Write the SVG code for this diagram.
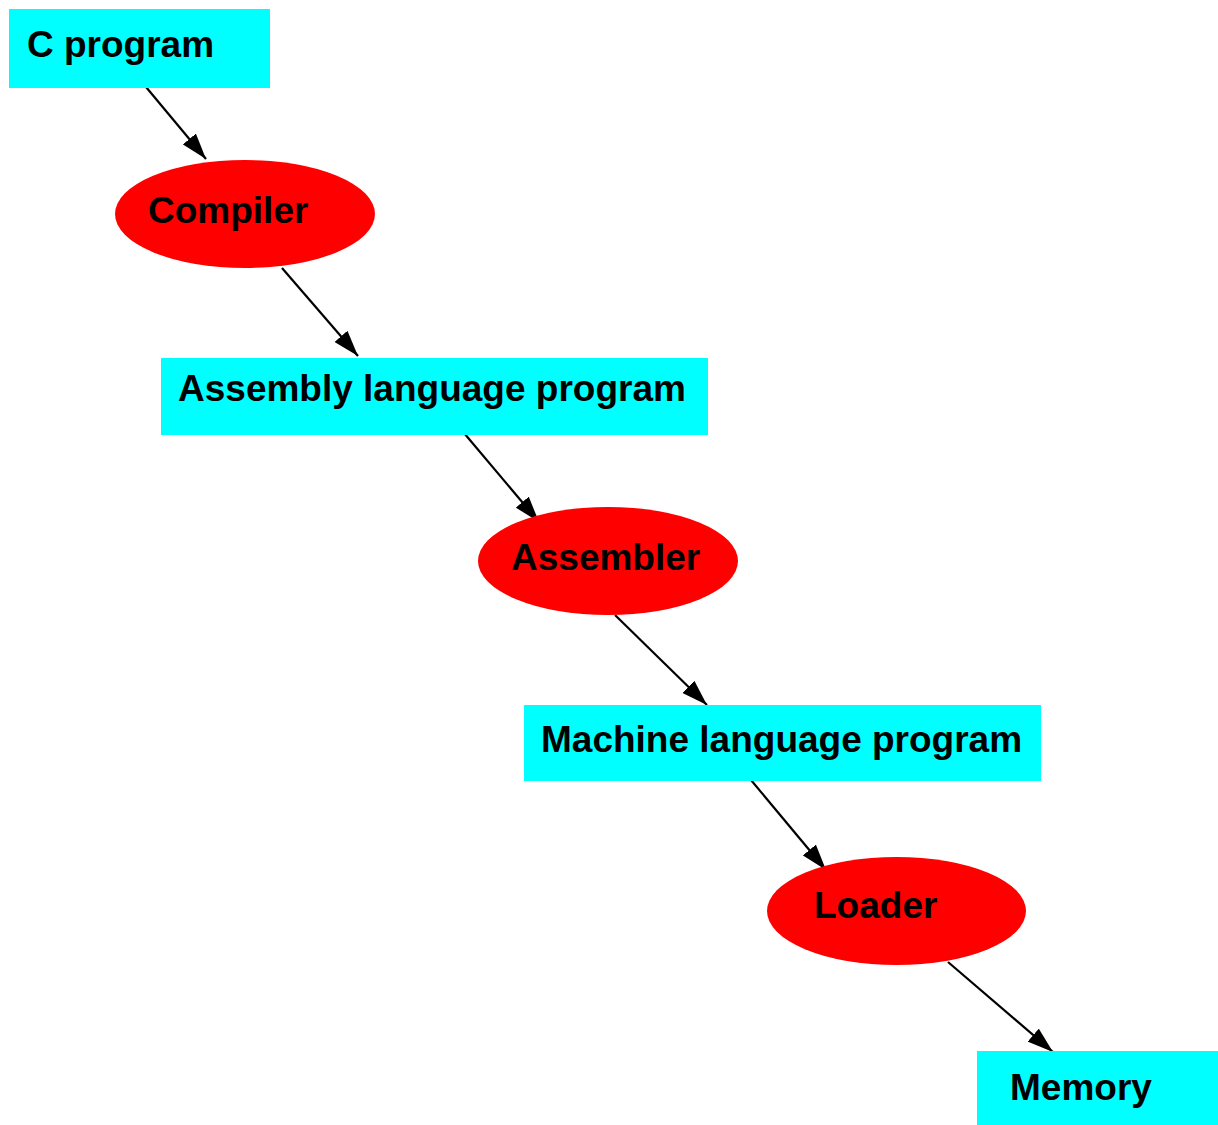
<svg xmlns="http://www.w3.org/2000/svg" width="1218" height="1125" viewBox="0 0 1218 1125">
  <style>
    .box { fill: #00ffff; stroke: none; }
    .proc { fill: #ff0000; stroke: none; }
    .label { font-family: "Liberation Sans", Arial, Helvetica, sans-serif; font-weight: bold; font-size: 37px; fill: #000000; }
    .edge { stroke: #000000; stroke-width: 2.2; fill: none; }
  </style>
  <defs>
    <marker id="arrow" markerUnits="userSpaceOnUse" markerWidth="27" markerHeight="18" refX="26" refY="9" orient="auto">
      <path d="M0,0.5 L26,9 L0,17.5 Z" fill="#000000"/>
    </marker>
  </defs>
  <rect width="1218" height="1125" fill="#ffffff"/>

  <g id="edges">
    <line class="edge" x1="146" y1="87" x2="206" y2="159" marker-end="url(#arrow)"/>
    <line class="edge" x1="282" y1="268" x2="358" y2="356" marker-end="url(#arrow)"/>
    <line class="edge" x1="464" y1="433" x2="539" y2="522" marker-end="url(#arrow)"/>
    <line class="edge" x1="615" y1="615" x2="707" y2="705" marker-end="url(#arrow)"/>
    <line class="edge" x1="751" y1="780" x2="826" y2="870" marker-end="url(#arrow)"/>
    <line class="edge" x1="948" y1="962" x2="1053" y2="1052" marker-end="url(#arrow)"/>
  </g>

  <g id="c_program">
    <rect class="box" x="9" y="9" width="261" height="79"/>
    <text class="label" x="27" y="57">C program</text>
  </g>
  <g id="compiler">
    <ellipse class="proc" cx="245" cy="214" rx="130" ry="54"/>
    <text class="label" x="148" y="223">Compiler</text>
  </g>
  <g id="assembly_program">
    <rect class="box" x="161" y="358" width="547" height="77"/>
    <text class="label" x="178" y="401">Assembly language program</text>
  </g>
  <g id="assembler">
    <ellipse class="proc" cx="608" cy="561" rx="130" ry="54"/>
    <text class="label" x="511" y="570">Assembler</text>
  </g>
  <g id="machine_program">
    <rect class="box" x="524" y="705" width="517" height="76"/>
    <text class="label" x="541" y="752">Machine language program</text>
  </g>
  <g id="loader">
    <ellipse class="proc" cx="896.5" cy="911" rx="129.5" ry="54"/>
    <text class="label" x="814" y="918">Loader</text>
  </g>
  <g id="memory">
    <rect class="box" x="977" y="1051" width="241" height="74"/>
    <text class="label" x="1010" y="1100">Memory</text>
  </g>
</svg>
